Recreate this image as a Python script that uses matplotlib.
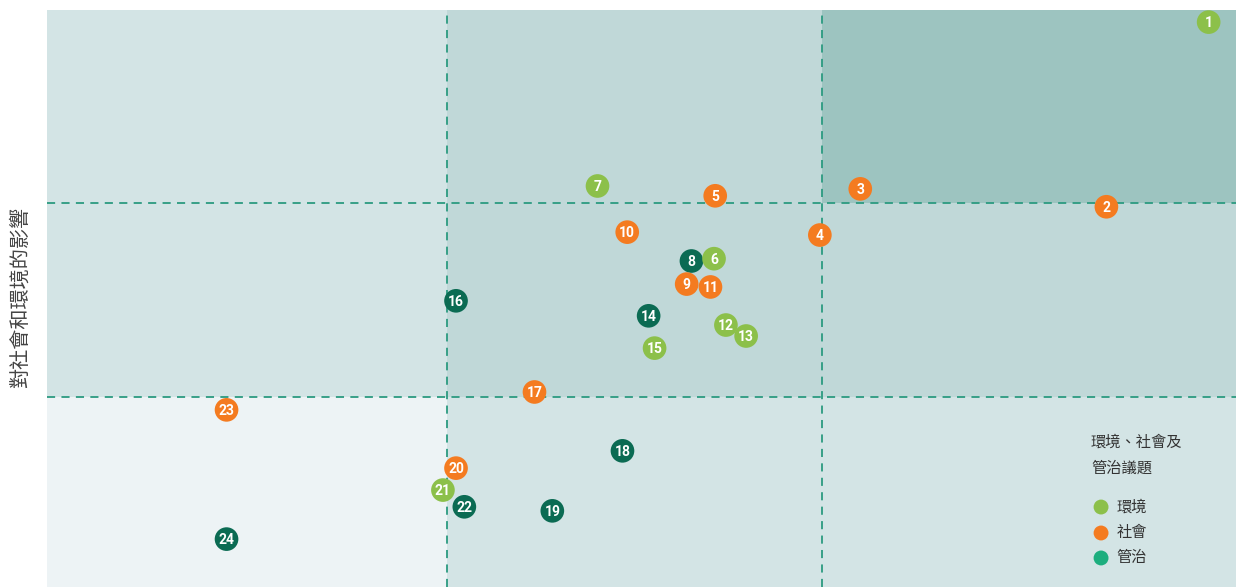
import matplotlib
matplotlib.use("Agg")
import matplotlib.pyplot as plt
from matplotlib.patches import Rectangle

plt.rcParams['font.family'] = ['Noto Sans CJK TC', 'DejaVu Sans']

# issue number, x (impact on business), y (impact on society & environment), category
ids = list(range(1, 25))
xs = [9.77, 8.91, 6.84, 6.50, 5.62, 5.61, 4.63, 5.42, 5.38, 4.88, 5.58, 5.71,
      5.88, 5.06, 5.11, 3.44, 4.10, 4.84, 4.25, 3.44, 3.33, 3.51, 1.51, 1.51]
ys = [9.79, 6.59, 6.90, 6.10, 6.78, 5.69, 6.95, 5.65, 5.25, 6.15, 5.20, 4.54,
      4.35, 4.70, 4.14, 4.96, 3.38, 2.36, 1.32, 2.06, 1.68, 1.39, 3.07, 0.83]
cats = ['E', 'S', 'S', 'S', 'S', 'E', 'E', 'G', 'S', 'S', 'S', 'E',
        'E', 'G', 'E', 'G', 'S', 'G', 'G', 'S', 'E', 'G', 'S', 'G']

x_cuts = [3.36, 6.52]
y_cuts = [3.29, 6.66]

legend_title = '環境、社會及\n管治議題'
legend_labels = {'E': '環境', 'S': '社會', 'G': '管治'}
ylabel = '對社會和環境的影響'

point_colors = {'E': '#8cc04a', 'S': '#f47b20', 'G': '#0b6b53'}
legend_colors = {'E': '#8cc04a', 'S': '#f47b20', 'G': '#1cae7e'}

# cell shades, rows from bottom to top, columns left to right
cell_colors = [
    ['#edf3f5', '#d3e4e5', '#d3e4e5'],
    ['#d3e4e5', '#c0d8d8', '#c0d8d8'],
    ['#d3e4e5', '#c0d8d8', '#9dc4c0'],
]

W, H = 1236, 587
fig = plt.figure(figsize=(W / 100, H / 100), dpi=100)
ax = fig.add_axes([47 / W, 0, 1189 / W, 577 / H])
ax.set_xlim(0, 10)
ax.set_ylim(0, 10)

xe = [0] + x_cuts + [10]
ye = [0] + y_cuts + [10]
for r in range(3):
    for c in range(3):
        ax.add_patch(Rectangle((xe[c], ye[r]), xe[c + 1] - xe[c], ye[r + 1] - ye[r],
                               facecolor=cell_colors[r][c], edgecolor='none', zorder=0))

for xc in x_cuts:
    ax.axvline(xc, color='#2b9a80', lw=1.3, ls=(0, (4.5, 3.5)), zorder=1)
for yc in y_cuts:
    ax.axhline(yc, color='#2b9a80', lw=1.3, ls=(0, (4.5, 3.5)), zorder=1)

for i, (n, x, y, c) in enumerate(zip(ids, xs, ys, cats)):
    z = 3 + i * 2
    if n == 6:
        z = 3 + 8 * 2 + 1
    ax.scatter(x, y, s=290, color=point_colors[c], edgecolors='none', zorder=z)
    ax.text(x, y - 0.02, str(n), color='white', fontsize=10, fontweight='bold',
            family=['Roboto', 'DejaVu Sans'], ha='center', va='center', zorder=z + 1)

# legend
ax.text(0.878, 0.265, legend_title, transform=ax.transAxes, fontsize=11,
        color='#333333', ha='left', va='top', linespacing=1.65)
for k, yy in zip(['E', 'S', 'G'], [0.1386, 0.0936, 0.0503]):
    ax.scatter(0.8865, yy, s=115, color=legend_colors[k], edgecolors='none',
               transform=ax.transAxes, zorder=60)
    ax.text(0.8995, yy, legend_labels[k], transform=ax.transAxes, fontsize=11,
            color='#333333', ha='left', va='center')

ax.set_xticks([])
ax.set_yticks([])
for sp in ax.spines.values():
    sp.set_visible(False)

fig.text(20 / W, 1 - 297 / H, ylabel, rotation=90, fontsize=14.5, color='#444444',
         ha='center', va='center')

fig.savefig('out.png', dpi=100, facecolor='white')
